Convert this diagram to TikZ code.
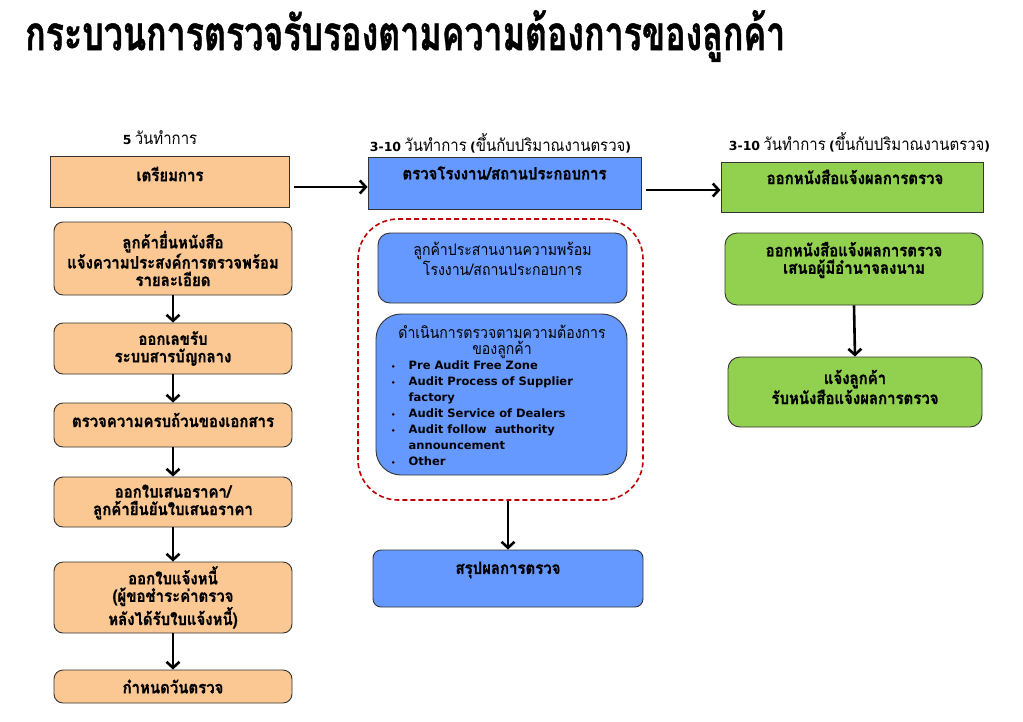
\documentclass[tikz,border=0pt]{standalone}
\usepackage{fontspec}
\usetikzlibrary{arrows.meta,calc}
\newfontfamily\thai[Script=Thai,FakeStretch=0.88]{Loma}
\newfontfamily\thaiB[Script=Thai,FakeStretch=0.88,FakeBold=1]{Loma Bold}
\newfontfamily\lat{DejaVu Sans}
\definecolor{peach}{HTML}{FBC894}
\definecolor{bluef}{HTML}{6699FF}
\definecolor{greenf}{HTML}{92D050}
\definecolor{edge}{HTML}{333333}
\definecolor{dred}{HTML}{C00000}
\newcommand{\thb}{\thaiB\fontsize{17}{17.5}\selectfont}
\newcommand{\thr}{\thai\fontsize{17}{16}\selectfont}
\newcommand{\thin}{\thai\fontsize{16}{16}\selectfont}
\newcommand{\lb}{\lat\bfseries\fontsize{12.5}{15}\selectfont}
\begin{document}
\begin{tikzpicture}[x=1pt,y=-1pt,
  base/.style={draw=edge, line width=0.9pt, inner sep=0pt, align=center, font=\thb},
  orng/.style={base, fill=peach, rounded corners=9pt},
  orect/.style={base, fill=peach},
  bl/.style={base, fill=bluef, rounded corners=12pt},
  brect/.style={base, fill=bluef},
  gr/.style={base, fill=greenf, rounded corners=12pt},
  grect/.style={base, fill=greenf},
  txt/.style={inner sep=0pt, align=center, font=\thb},
  lbl/.style={inner sep=0pt, align=center},
  arr/.style={line width=2.6pt, -{Straight Barb[length=6pt,width=13pt]}},
  dashbox/.style={draw=dred, line width=1.6pt, dash pattern=on 5pt off 3pt, rounded corners=40pt}
]
\useasboundingbox (0,0) rectangle (1023,721);
\fill[white] (0,0) rectangle (1023,721);

% title
\node[lbl, anchor=west] (title) at (25,36) {\resizebox{760pt}{40pt}{\thaiB\fontsize{30}{36}\selectfont กระบวนการตรวจรับรองตามความต้องการของลูกค้า}};

% column labels
\node[lbl] (lab1) at (160,138) {{\lb 5} {\thr วันทำการ}};
\node[lbl] (lab2) at (500.5,143) {{\lb 3-10} {\thr วันทำการ} {\lb (}{\thr ขึ้นกับปริมาณงานตรวจ}{\lb )}};
\node[lbl] (lab3) at (859.5,142) {{\lb 3-10} {\thr วันทำการ} {\lb (}{\thr ขึ้นกับปริมาณงานตรวจ}{\lb )}};

% left column
\node[orect, minimum width=239pt, minimum height=51pt] (prep) at (170,181.5) {};
\node[txt] (preptxt) at (170,174) {เตรียมการ};
\node[orng, minimum width=238pt, minimum height=73pt] (b1) at (173,258.5) {ลูกค้ายื่นหนังสือ\\แจ้งความประสงค์การตรวจพร้อม\\รายละเอียด};
\node[orng, minimum width=238pt, minimum height=51pt] (b2) at (173,348.5) {ออกเลขรับ\\ระบบสารบัญกลาง};
\node[orng, minimum width=238pt, minimum height=44pt] (b3) at (173,425) {};
\node[txt] (b3txt) at (173,420) {ตรวจความครบถ้วนของเอกสาร};
\node[orng, minimum width=238pt, minimum height=50pt] (b4) at (173,502) {ออกใบเสนอราคา/\\ลูกค้ายืนยันใบเสนอราคา};
\node[orng, minimum width=238pt, minimum height=71pt] (b5) at (173,597.5) {ออกใบแจ้งหนี้\\(ผู้ขอชำระค่าตรวจ\\หลังได้รับใบแจ้งหนี้)};
\node[orng, minimum width=238pt, minimum height=33pt] (b6) at (173,686.5) {กำหนดวันตรวจ};

\draw[arr] (b1.south) -- (b2.north);
\draw[arr] (b2.south) -- (b3.north);
\draw[arr] (b3.south) -- (b4.north);
\draw[arr] (b4.south) -- (b5.north);
\draw[arr] (b5.south) -- (b6.north);

% middle column
\node[brect, minimum width=273pt, minimum height=52pt] (insp) at (504.5,183) {};
\node[txt] (insptxt) at (504.5,173) {ตรวจโรงงาน/สถานประกอบการ};
\node[dashbox, minimum width=285pt, minimum height=281pt, inner sep=0pt] (dash) at (500.5,359.5) {};
\node[bl, minimum width=249pt, minimum height=70pt] (in1) at (502.5,268) {};
\node[txt, font=\thin] (in1txt) at (502.5,259) {ลูกค้าประสานงานความพร้อม\\โรงงาน/สถานประกอบการ};
\node[bl, minimum width=251pt, minimum height=161pt, rounded corners=25pt] (in2) at (501.5,394.5) {};
\node[txt, font=\thin] (in2head) at (502,342) {ดำเนินการตรวจตามความต้องการ\\ของลูกค้า};
\node[lbl, anchor=north west, font=\lat\bfseries\fontsize{11.5}{16}\selectfont] (in2list) at (391,358.5) {%
\begin{tabular}{@{}l@{\hspace{13pt}}l@{}}
{\fontsize{7}{7}\selectfont •} & Pre Audit Free Zone\\
{\fontsize{7}{7}\selectfont •} & Audit Process of Supplier\\
  & factory\\
{\fontsize{7}{7}\selectfont •} & Audit Service of Dealers\\
{\fontsize{7}{7}\selectfont •} & Audit follow\ \ authority\\
  & announcement\\
{\fontsize{7}{7}\selectfont •} & Other
\end{tabular}};
\node[bl, minimum width=270pt, minimum height=57pt, rounded corners=8pt] (sum) at (508,578.5) {};
\node[txt] (sumtxt) at (508,570) {สรุปผลการตรวจ};

\draw[arr] (sum.north |- dash.south) -- (sum.north);

% right column
\node[grect, minimum width=262pt, minimum height=50pt] (g1) at (852,187) {};
\node[txt] (g1txt) at (855,177) {ออกหนังสือแจ้งผลการตรวจ};
\node[gr, minimum width=258pt, minimum height=72pt] (g2) at (854,269) {};
\node[txt] (g2txt) at (854,260) {ออกหนังสือแจ้งผลการตรวจ\\เสนอผู้มีอำนาจลงนาม};
\node[gr, minimum width=254pt, minimum height=70pt] (g3) at (855,392) {};
\node[txt, font=\thaiB\fontsize{17}{20}\selectfont] (g3txt) at (855,387) {แจ้งลูกค้า\\รับหนังสือแจ้งผลการตรวจ};

\draw[arr] (g2.south) -- (g3.north);

% horizontal arrows
\draw[arr] ([xshift=4pt,yshift=-5.5pt]prep.east) -- ([yshift=-5.5pt]prep.east -| insp.west);
\draw[arr] ([xshift=5pt,yshift=-7pt]insp.east) -- ([yshift=-7pt]insp.east -| g1.west);
\end{tikzpicture}
\end{document}
